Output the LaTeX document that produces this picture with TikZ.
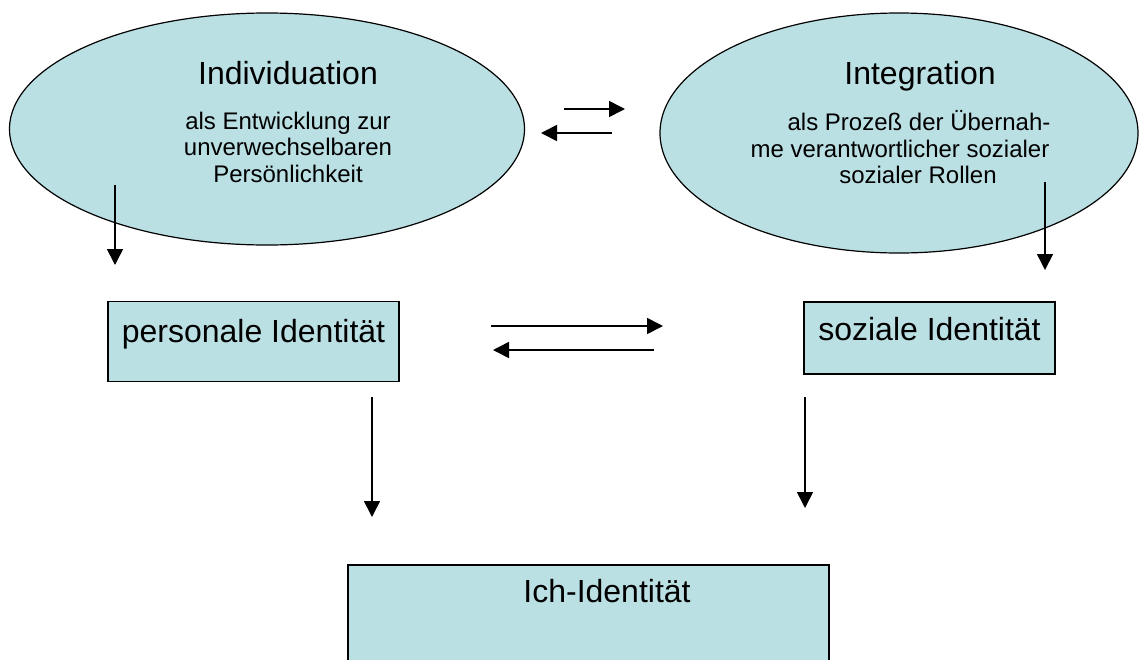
\documentclass[tikz,border=0pt]{standalone}
\usepackage{fontspec}
\setmainfont{Liberation Sans}
\usetikzlibrary{shapes.geometric,arrows.meta}
\definecolor{fillblue}{RGB}{187,224,228}
\begin{document}
\begin{tikzpicture}[x=1pt,y=-1pt,
  oval/.style={ellipse, draw=black, line width=1.2pt, fill=fillblue, inner sep=0pt},
  box/.style={rectangle, draw=black, line width=1.3pt, fill=fillblue, inner sep=0pt},
  big/.style={font=\fontsize{32}{38}\selectfont, inner sep=0pt, anchor=base},
  small/.style={font=\fontsize{24}{26.5}\selectfont, inner sep=0pt, anchor=base},
  arr/.style={line width=1.6pt, -{Triangle[length=16pt,width=16pt]}}]
\useasboundingbox (0,0) rectangle (1139,659);
\clip (0,0) rectangle (1139,659);

% ellipses
\node[oval, minimum width=515pt, minimum height=232pt] (indiv) at (267,129) {};
\node[oval, minimum width=478pt, minimum height=240pt] (integ) at (899,133) {};

\node[big] (indivT) at (288,84) {Individuation};
\node[small] (indivS1) at (288,129) {als Entwicklung zur};
\node[small] (indivS2) at (288,155.5) {unverwechselbaren};
\node[small] (indivS3) at (288,182) {Persönlichkeit};

\node[big] (integT) at (920,84) {Integration};
\node[small] (integS1) at (919,130.5) {als Prozeß der Übernah-};
\node[small] (integS2) at (900,157) {me verantwortlicher sozialer};
\node[small] (integS3) at (918,183.5) {sozialer Rollen};

% boxes
\node[box, minimum width=291pt, minimum height=80pt] (pers) at (253.5,341.5) {};
\node[big] (persT) at (253.5,342) {personale Identität};
\node[box, minimum width=251pt, minimum height=72pt] (soz) at (929.5,338) {};
\node[big] (sozT) at (929.5,340) {soziale Identität};
\node[box, minimum width=481pt, minimum height=140pt] (ich) at (588.5,635) {};
\node[big] (ichT) at (607,602) {Ich-Identität};

% arrow end points
\coordinate (a1s) at (564,109);  \coordinate (a1e) at (625,109);
\coordinate (a2s) at (612,133);  \coordinate (a2e) at (541,133);
\coordinate (a3s) at (115,185);  \coordinate (a3e) at (115,265);
\coordinate (a4s) at (1045,182); \coordinate (a4e) at (1045,270);
\coordinate (a5s) at (491,326);  \coordinate (a5e) at (663,326);
\coordinate (a6s) at (654,350);  \coordinate (a6e) at (493,350);
\coordinate (a7s) at (372,397);  \coordinate (a7e) at (372,517);
\coordinate (a8s) at (805,397);  \coordinate (a8e) at (805,508);

\draw[arr] (a1s) -- (a1e);
\draw[arr] (a2s) -- (a2e);
\draw[arr] (a3s) -- (a3e);
\draw[arr] (a4s) -- (a4e);
\draw[arr] (a5s) -- (a5e);
\draw[arr] (a6s) -- (a6e);
\draw[arr] (a7s) -- (a7e);
\draw[arr] (a8s) -- (a8e);
\end{tikzpicture}
\end{document}
